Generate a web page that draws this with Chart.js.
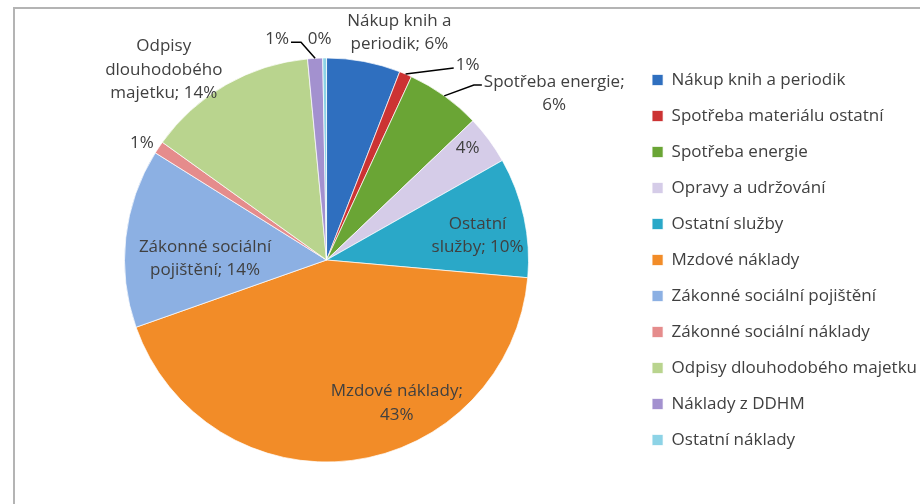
<!DOCTYPE html>
<html>
<head>
<meta charset="utf-8">
<script src="https://cdn.jsdelivr.net/npm/chart.js@4.4.1/dist/chart.umd.min.js"></script>
<style>
  html, body { margin: 0; padding: 0; background: #fff; }
  #wrap { position: relative; width: 920px; height: 504px; overflow: hidden; }
  #frame { position: absolute; left: 13px; top: 7px; width: 1000px; height: 600px;
           border-left: 2px solid #b4b4b4; border-top: 2px solid #b4b4b4; }
  canvas { position: absolute; left: 0; top: 0; }
</style>
</head>
<body>
<div id="wrap">
  <div id="frame"></div>
  <canvas id="pie" width="920" height="504"></canvas>
</div>
<script>
// categories and their shares
var categories = [
  'Nákup knih a periodik',
  'Spotřeba materiálu ostatní',
  'Spotřeba energie',
  'Opravy a udržování',
  'Ostatní služby',
  'Mzdové náklady',
  'Zákonné sociální pojištění',
  'Zákonné sociální náklady',
  'Odpisy dlouhodobého majetku',
  'Náklady z DDHM',
  'Ostatní náklady'
];
var values = [5.9, 1.0, 6.0, 3.9, 9.6, 43.2, 14.3, 1.0, 13.6, 1.2, 0.3];
var colors = ['#2f6fbf', '#cc3333', '#6aa535', '#d5cce8', '#2aa8c8', '#f28c28',
              '#8cb0e3', '#e58c8c', '#b9d48e', '#a391cf', '#8dd3e6'];

// which labels show the category name, and after which words they wrap
var showName = [true, false, true, false, true, true, true, false, true, false, false];
var wrapAfter = [[3], [], [2], [], [1], [2], [2], [], [1, 2], [], []];

// label placement: radius factor along the slice middle + nudge
var labelPlace = [
  {r: 1.15, dx: 30, dy: 1},
  {r: 1.0, dx: 62, dy: -9, leader: 'right', elbow: 0},
  {r: 1.0, dx: 110, dy: -2, leader: 'right', elbow: 8},
  {r: 0.9, dx: -5, dy: -4},
  {r: 0.76, dx: 1, dy: 8},
  {r: 0.72, dx: 52, dy: -1},
  {r: 0.6, dx: -1, dy: 12},
  {r: 1.07, dx: -5, dy: 4},
  {r: 1.2, dx: -42, dy: 20},
  {r: 1.0, dx: -38, dy: -19, leader: 'left', elbow: 10},
  {r: 1.0, dx: -5, dy: -19}
];

var total = values.reduce(function(a, b) { return a + b; }, 0);

function labelLines(i) {
  var pct = Math.round(values[i] / total * 100) + '%';
  if (!showName[i]) return [pct];
  var words = (categories[i] + '; ' + pct).split(' ');
  var lines = [], cur = [];
  words.forEach(function(w, k) {
    cur.push(w);
    if (wrapAfter[i].indexOf(k + 1) >= 0) { lines.push(cur.join(' ')); cur = []; }
  });
  if (cur.length) lines.push(cur.join(' '));
  return lines;
}

var sliceLabels = {
  id: 'sliceLabels',
  afterDatasetsDraw: function(chart) {
    var ctx = chart.ctx;
    var meta = chart.getDatasetMeta(0);
    var lh = 23.5;
    ctx.save();
    ctx.font = '17px "Open Sans"';
    ctx.fillStyle = '#404040';
    ctx.strokeStyle = '#000';
    ctx.lineWidth = 1.5;
    ctx.textAlign = 'center';
    ctx.textBaseline = 'middle';
    meta.data.forEach(function(arc, i) {
      var p = labelPlace[i];
      var mid = (arc.startAngle + arc.endAngle) / 2;
      var R = arc.outerRadius;
      var cx = arc.x + Math.cos(mid) * R * p.r + p.dx;
      var cy = arc.y + Math.sin(mid) * R * p.r + p.dy;
      var lines = labelLines(i);
      var y0 = cy - (lines.length - 1) * lh / 2;
      lines.forEach(function(t, k) { ctx.fillText(t, cx, y0 + k * lh); });
      if (p.leader) {
        var ex = arc.x + Math.cos(mid) * R, ey = arc.y + Math.sin(mid) * R;
        var w = ctx.measureText(lines[0]).width;
        var tx = p.leader === 'right' ? cx - w / 2 - 2 : cx + w / 2 + 2;
        var ty = y0 + 3;
        var bx = p.leader === 'right' ? tx - p.elbow : tx + p.elbow;
        ctx.beginPath();
        ctx.moveTo(ex, ey);
        ctx.lineTo(bx, ty);
        ctx.lineTo(tx, ty);
        ctx.stroke();
      }
    });
    ctx.restore();
  }
};

new Chart(document.getElementById('pie'), {
  type: 'pie',
  data: {
    labels: categories,
    datasets: [{
      data: values,
      backgroundColor: colors,
      borderColor: 'rgba(255,255,255,0.7)',
      borderWidth: 1,
      radius: 202
    }]
  },
  options: {
    responsive: false,
    animation: false,
    layout: { padding: { left: 20, top: 16, bottom: 0, right: -7 } },
    plugins: {
      tooltip: { enabled: false },
      legend: {
        position: 'right',
        labels: {
          font: { family: 'Open Sans', size: 17 },
          color: '#404040',
          boxWidth: 11,
          boxHeight: 11,
          padding: 19
        }
      }
    }
  },
  plugins: [sliceLabels]
});
</script>
</body>
</html>
